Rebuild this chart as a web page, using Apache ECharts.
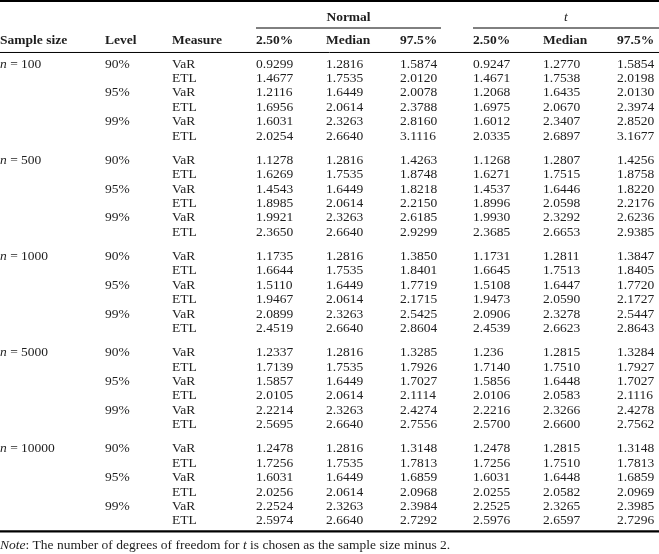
<!DOCTYPE html>
<html><head><meta charset="utf-8">
<script src="https://cdn.jsdelivr.net/npm/echarts@6/dist/echarts.min.js"></script>
<style>html,body{margin:0;padding:0;background:#fff}#c{width:659px;height:554px}</style>
</head><body><div id="c"></div>
<script>
// ---------- data ----------
const sampleSizes = ['100', '500', '1000', '5000', '10000'];
const levels = ['90%', '95%', '99%'];
const measures = ['VaR', 'ETL'];
const groupHeaders = ['Normal', 't'];
const columnHeaders = ['Sample size', 'Level', 'Measure', '2.50%', 'Median', '97.5%', '2.50%', 'Median', '97.5%'];
const noteText = 'Note: The number of degrees of freedom for t is chosen as the sample size minus 2.';

// each array: 5 sample sizes x (90% VaR, 90% ETL, 95% VaR, 95% ETL, 99% VaR, 99% ETL)
const normalLow = [
  '0.9299','1.4677','1.2116','1.6956','1.6031','2.0254',
  '1.1278','1.6269','1.4543','1.8985','1.9921','2.3650',
  '1.1735','1.6644','1.5110','1.9467','2.0899','2.4519',
  '1.2337','1.7139','1.5857','2.0105','2.2214','2.5695',
  '1.2478','1.7256','1.6031','2.0256','2.2524','2.5974'];
const normalMedian = [
  '1.2816','1.7535','1.6449','2.0614','2.3263','2.6640',
  '1.2816','1.7535','1.6449','2.0614','2.3263','2.6640',
  '1.2816','1.7535','1.6449','2.0614','2.3263','2.6640',
  '1.2816','1.7535','1.6449','2.0614','2.3263','2.6640',
  '1.2816','1.7535','1.6449','2.0614','2.3263','2.6640'];
const normalHigh = [
  '1.5874','2.0120','2.0078','2.3788','2.8160','3.1116',
  '1.4263','1.8748','1.8218','2.2150','2.6185','2.9299',
  '1.3850','1.8401','1.7719','2.1715','2.5425','2.8604',
  '1.3285','1.7926','1.7027','2.1114','2.4274','2.7556',
  '1.3148','1.7813','1.6859','2.0968','2.3984','2.7292'];
const tLow = [
  '0.9247','1.4671','1.2068','1.6975','1.6012','2.0335',
  '1.1268','1.6271','1.4537','1.8996','1.9930','2.3685',
  '1.1731','1.6645','1.5108','1.9473','2.0906','2.4539',
  '1.236','1.7140','1.5856','2.0106','2.2216','2.5700',
  '1.2478','1.7256','1.6031','2.0255','2.2525','2.5976'];
const tMedian = [
  '1.2770','1.7538','1.6435','2.0670','2.3407','2.6897',
  '1.2807','1.7515','1.6446','2.0598','2.3292','2.6653',
  '1.2811','1.7513','1.6447','2.0590','2.3278','2.6623',
  '1.2815','1.7510','1.6448','2.0583','2.3266','2.6600',
  '1.2815','1.7510','1.6448','2.0582','2.3265','2.6597'];
const tHigh = [
  '1.5854','2.0198','2.0130','2.3974','2.8520','3.1677',
  '1.4256','1.8758','1.8220','2.2176','2.6236','2.9385',
  '1.3847','1.8405','1.7720','2.1727','2.5447','2.8643',
  '1.3284','1.7927','1.7027','2.1116','2.4278','2.7562',
  '1.3148','1.7813','1.6859','2.0969','2.3985','2.7296'];

// ---------- layout (styles/positions) ----------
const FONT = 'Liberation Serif';
const FS = 13.5;
const INK = '#1e1e1e';
const COLX = [0, 105, 172, 256, 326, 400, 473, 543, 617];
const GROUP_PITCH = 6.68;          // rows per sample-size block (incl. gap)
const ROW_HEADER = -1.6, ROW_GROUP = -3.26, ROW_NOTE = 33.45;

function rowPos(g, i) { return g * GROUP_PITCH + i; }

// build cells: [colIndex, rowPosition, text, kind]
const cells = [];
cells.push([3.5, ROW_GROUP, groupHeaders[0], 'groupB']);
cells.push([6.5, ROW_GROUP, groupHeaders[1], 'groupI']);
columnHeaders.forEach((h, c) => cells.push([c, ROW_HEADER, h, 'head']));
const valueCols = [normalLow, normalMedian, normalHigh, tLow, tMedian, tHigh];
sampleSizes.forEach((n, g) => {
  cells.push([0, rowPos(g, 0), '{i|n} = ' + n, 'rich']);
  levels.forEach((lv, l) => {
    cells.push([1, rowPos(g, l * 2), lv, 'txt']);
    measures.forEach((m, k) => {
      const idx = g * 6 + l * 2 + k;
      cells.push([2, rowPos(g, l * 2 + k), m, 'txt']);
      valueCols.forEach((arr, vc) => cells.push([3 + vc, rowPos(g, l * 2 + k), arr[idx], 'txt']));
    });
  });
});
cells.push([0, ROW_NOTE, '{i|Note}: The number of degrees of freedom for {i|t} is chosen as the sample size minus 2.', 'rich']);

// rules: [fromCol, toCol(edge), rowPosition, width]
const rules = [
  ['L', 'R', -4.38, 2.2],
  [3, 'NR', -2.5, 1],
  [6, 'R', -2.5, 1],
  ['L', 'R', -0.8, 1],
  ['L', 'R', 32.45, 2.2]
];

function colPx(api, c) {
  if (c === 'L') return 0;
  if (c === 'R') return 659;
  if (c === 'NR') return 441;
  if (Number.isInteger(c)) return api.coord([COLX[c], 0])[0];
  return null;
}

const chart = echarts.init(document.getElementById('c'), null, { renderer: 'canvas' });
const option = {
  animation: false,
  backgroundColor: '#fff',
  grid: { left: 0, right: 0, top: 0, bottom: 0 },
  xAxis: { type: 'value', min: 0, max: 659, show: false },
  yAxis: { type: 'value', inverse: true, min: -64 / 14.4, max: (554 - 64) / 14.4, show: false },
  series: [
    {
      type: 'custom',
      coordinateSystem: 'cartesian2d',
      data: rules.map((r, i) => [i, r[2]]),
      renderItem: function (params, api) {
        const r = rules[params.dataIndex];
        const y = api.coord([0, api.value(1)])[1];
        const x1 = colPx(api, r[0]);
        const x2 = colPx(api, r[1]);
        return {
          type: 'line',
          shape: { x1: x1, y1: y, x2: x2, y2: y },
          style: { stroke: '#000', lineWidth: r[3] }
        };
      },
      silent: true
    },
    {
      type: 'custom',
      coordinateSystem: 'cartesian2d',
      data: cells.map((c, i) => [c[0], c[1], i]),
      renderItem: function (params, api) {
        const cell = cells[params.dataIndex];
        const col = cell[0], kind = cell[3];
        const y = api.coord([0, cell[1]])[1];
        let x, align = 'left';
        if (kind === 'groupB') { x = (api.coord([COLX[3], 0])[0] + 441) / 2; align = 'center'; }
        else if (kind === 'groupI') { x = (api.coord([COLX[6], 0])[0] + 659) / 2; align = 'center'; }
        else x = api.coord([COLX[col], 0])[0];
        const style = {
          text: cell[2], x: x, y: y, align: align, verticalAlign: 'middle',
          fill: INK, fontFamily: FONT, fontSize: FS,
          fontWeight: (kind === 'head' || kind === 'groupB') ? 'bold' : 'normal',
          fontStyle: kind === 'groupI' ? 'italic' : 'normal'
        };
        if (kind === 'rich') {
          style.rich = { i: { fontStyle: 'italic', fontFamily: FONT, fontSize: FS, fill: INK } };
        }
        return { type: 'text', style: style };
      },
      silent: true
    }
  ]
};
chart.setOption(option);
</script>
</body></html>
